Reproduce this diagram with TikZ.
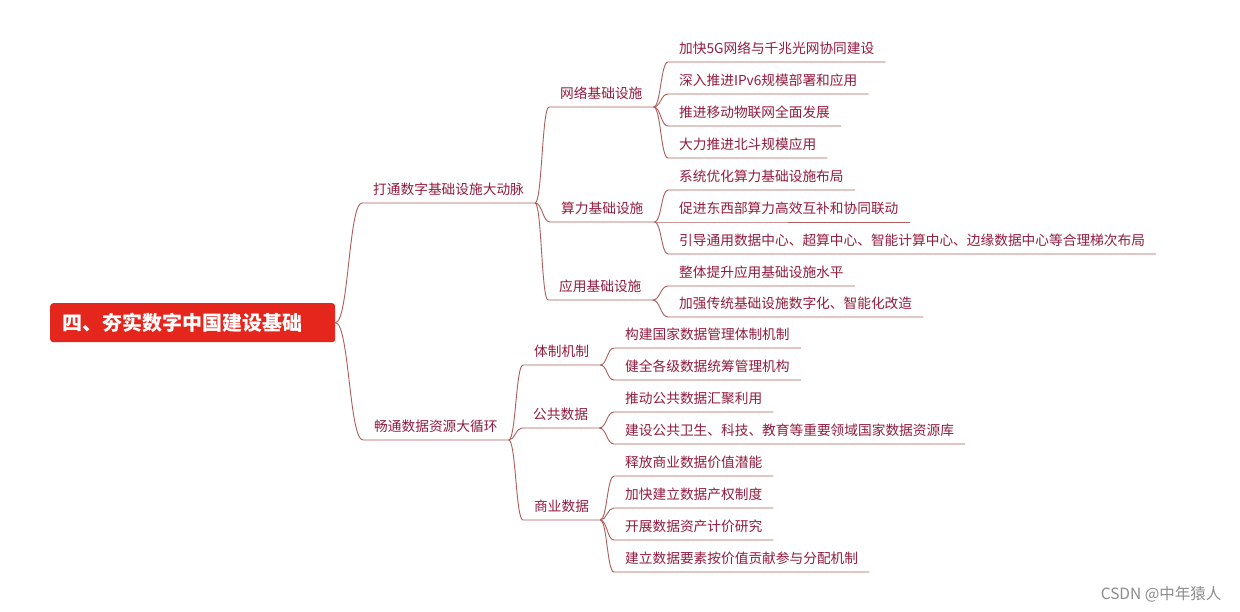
\documentclass[tikz,border=0pt]{standalone}
\usepackage{fontspec}
\setmainfont{Noto Sans CJK SC}
\usepackage{xcolor}
\usepackage{tikz}
\usetikzlibrary{calc}
\definecolor{MMRed}{HTML}{E4261C}
\definecolor{MMText}{HTML}{931B3E}
\definecolor{MMLine}{HTML}{AE5E5A}
\definecolor{MMMark}{HTML}{8C8C8C}
\newcommand\leaffont{\fontsize{13.7}{16}\selectfont}
\newcommand\rootfont{\bfseries\fontsize{20}{24}\selectfont}

\begin{document}
\begin{tikzpicture}[x=1pt,y=-1pt,
  root/.style={fill=MMRed,rounded corners=3pt,text=white,font=\rootfont,text width=261pt,inner xsep=12pt,inner ysep=0pt,minimum height=39pt,align=left},
  topic/.style={anchor=south west,text=MMText,font=\leaffont,inner xsep=11pt,inner ysep=5.3pt,text height=10pt,text depth=3pt},
  link/.style={MMLine,line width=0.9pt},
  branch/.style={to path={let \p1=(\tikztostart),\p2=(\tikztotarget) in .. controls (\x1*0.5+\x2*0.5,\y1) and (\x1*0.5+\x2*0.5,\y2) .. (\tikztotarget)}},
  watermark/.style={anchor=east,text=MMMark,font=\fontsize{15.5}{18}\selectfont}]
\path[use as bounding box,fill=white] (0,0) rectangle (1240,612);
\node[root,anchor=north west] (root) at (50,303) {四、夯实数字中国建设基础};
\node[topic] (infra) at (362,203) {打通数字基础设施大动脉};
\node[topic] (data) at (363,440) {畅通数据资源大循环};
\node[topic] (net) at (549,107) {网络基础设施};
\node[topic] (comp) at (550,222) {算力基础设施};
\node[topic] (app) at (548,300) {应用基础设施};
\node[topic] (inst) at (523,365) {体制机制};
\node[topic] (pub) at (522,428) {公共数据};
\node[topic] (biz) at (523,520) {商业数据};
\node[topic] (net1) at (668,62) {加快5G网络与千兆光网协同建设};
\node[topic] (net2) at (668,94) {深入推进IPv6规模部署和应用};
\node[topic] (net3) at (668,126) {推进移动物联网全面发展};
\node[topic] (net4) at (668,158) {大力推进北斗规模应用};
\node[topic] (comp1) at (668,190) {系统优化算力基础设施布局};
\node[topic] (comp2) at (668,222) {促进东西部算力高效互补和协同联动};
\node[topic] (comp3) at (668,254) {引导通用数据中心、超算中心、智能计算中心、边缘数据中心等合理梯次布局};
\node[topic] (app1) at (668,286) {整体提升应用基础设施水平};
\node[topic] (app2) at (668,317) {加强传统基础设施数字化、智能化改造};
\node[topic] (inst1) at (614,348) {构建国家数据管理体制机制};
\node[topic] (inst2) at (614,380) {健全各级数据统筹管理机构};
\node[topic] (pub1) at (614,412) {推动公共数据汇聚利用};
\node[topic] (pub2) at (614,444) {建设公共卫生、科技、教育等重要领域国家数据资源库};
\node[topic] (biz1) at (614,476) {释放商业数据价值潜能};
\node[topic] (biz2) at (614,508) {加快建立数据产权制度};
\node[topic] (biz3) at (614,540) {开展数据资产计价研究};
\node[topic] (biz4) at (614,572) {建立数据要素按价值贡献参与分配机制};
\draw[link] (root.east) to[branch] (infra.south west) -- (infra.south east);
\draw[link] (root.east) to[branch] (data.south west) -- (data.south east);
\draw[link] (infra.south east) to[branch] (net.south west) -- (net.south east);
\draw[link] (infra.south east) to[branch] (comp.south west) -- (comp.south east);
\draw[link] (infra.south east) to[branch] (app.south west) -- (app.south east);
\draw[link] (data.south east) to[branch] (inst.south west) -- (inst.south east);
\draw[link] (data.south east) to[branch] (pub.south west) -- (pub.south east);
\draw[link] (data.south east) to[branch] (biz.south west) -- (biz.south east);
\draw[link] (net.south east) to[branch] (net1.south west) -- (net1.south east);
\draw[link] (net.south east) to[branch] (net2.south west) -- (net2.south east);
\draw[link] (net.south east) to[branch] (net3.south west) -- (net3.south east);
\draw[link] (net.south east) to[branch] (net4.south west) -- (net4.south east);
\draw[link] (comp.south east) to[branch] (comp1.south west) -- (comp1.south east);
\draw[link] (comp.south east) to[branch] (comp2.south west) -- (comp2.south east);
\draw[link] (comp.south east) to[branch] (comp3.south west) -- (comp3.south east);
\draw[link] (app.south east) to[branch] (app1.south west) -- (app1.south east);
\draw[link] (app.south east) to[branch] (app2.south west) -- (app2.south east);
\draw[link] (inst.south east) to[branch] (inst1.south west) -- (inst1.south east);
\draw[link] (inst.south east) to[branch] (inst2.south west) -- (inst2.south east);
\draw[link] (pub.south east) to[branch] (pub1.south west) -- (pub1.south east);
\draw[link] (pub.south east) to[branch] (pub2.south west) -- (pub2.south east);
\draw[link] (biz.south east) to[branch] (biz1.south west) -- (biz1.south east);
\draw[link] (biz.south east) to[branch] (biz2.south west) -- (biz2.south east);
\draw[link] (biz.south east) to[branch] (biz3.south west) -- (biz3.south east);
\draw[link] (biz.south east) to[branch] (biz4.south west) -- (biz4.south east);
\node[watermark] (credit) at (1225,594) {CSDN @中年猿人};
\end{tikzpicture}
\end{document}
